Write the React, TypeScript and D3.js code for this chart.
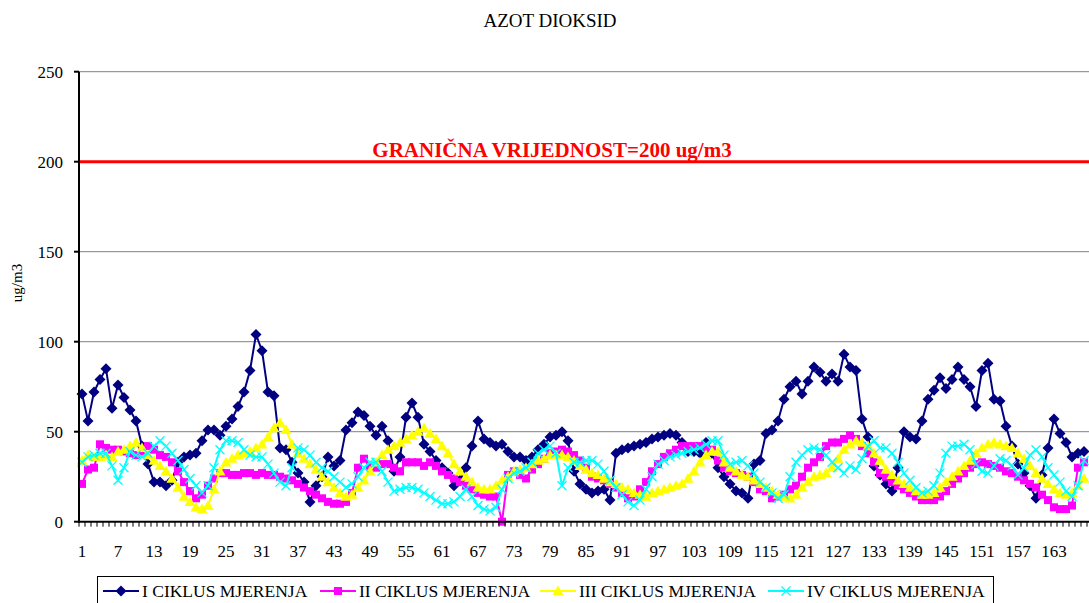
import React from 'react'
import { scaleBand, scaleLinear, line } from 'd3'

// hourly values, 168 per cycle
const ciklusI = [
  71, 56, 72, 79, 85, 63, 76, 69, 62, 56,
  42, 32, 22, 22, 20, 23, 33, 36, 37, 38,
  45, 51, 51, 48, 53, 57, 64, 72, 84, 104,
  95, 72, 70, 41, 40, 33, 27, 22, 11, 20,
  25, 36, 31, 34, 51, 55, 61, 59, 53, 48,
  53, 45, 28, 36, 58, 66, 58, 43, 39, 34,
  30, 27, 20, 23, 30, 42, 56, 46, 44, 42,
  43, 39, 36, 36, 34, 36, 40, 43, 47, 48,
  50, 45, 28, 21, 18, 16, 17, 18, 12, 38,
  40, 41, 42, 43, 44, 46, 47, 48, 49, 48,
  44, 39, 39, 38, 44, 38, 30, 25, 21, 17,
  16, 13, 32, 34, 49, 51, 56, 68, 75, 78,
  71, 78, 86, 83, 78, 82, 78, 93, 86, 84,
  57, 47, 31, 26, 21, 17, 30, 50, 47, 46,
  56, 68, 73, 80, 74, 79, 86, 79, 75, 64,
  84, 88, 68, 67, 53, 42, 32, 27, 20, 13,
  26, 41, 57, 49, 44, 36, 38, 39,
]
const ciklusII = [
  21, 29, 30, 43, 41, 40, 40, 39, 38, 37,
  39, 42, 40, 37, 36, 33, 28, 22, 17, 13,
  15, 20, 24, 27, 27, 26, 26, 27, 27, 26,
  27, 26, 26, 25, 24, 23, 21, 19, 17, 15,
  13, 11, 10, 10, 11, 16, 30, 35, 31, 30,
  32, 32, 30, 28, 33, 33, 33, 31, 33, 31,
  28, 26, 24, 22, 20, 18, 16, 15, 14, 14,
  0, 26, 28, 26, 24, 29, 32, 35, 38, 39,
  40, 39, 37, 34, 30, 25, 24, 23, 21, 19,
  16, 13, 14, 18, 22, 28, 32, 36, 38, 40,
  42, 42, 42, 42, 41, 40, 34, 30, 28, 27,
  26, 25, 22, 18, 17, 13, 14, 15, 18, 20,
  25, 30, 33, 36, 42, 44, 44, 46, 48, 46,
  42, 38, 33, 27, 25, 22, 20, 18, 16, 14,
  12, 12, 12, 14, 17, 21, 24, 27, 30, 32,
  33, 32, 31, 30, 28, 27, 25, 23, 21, 19,
  15, 12, 8, 7, 7, 9, 30, 33,
]
const ciklusIII = [
  34, 37, 36, 36, 37, 36, 39, 40, 42, 44,
  41, 37, 34, 31, 28, 24, 19, 14, 11, 8,
  7, 9, 18, 28, 33, 35, 37, 38, 39, 41,
  43, 47, 52, 55, 51, 43, 38, 35, 32, 29,
  25, 22, 19, 16, 14, 15, 19, 23, 28, 33,
  37, 40, 42, 44, 46, 48, 50, 52, 49, 46,
  42, 38, 32, 28, 25, 22, 19, 18, 18, 20,
  23, 25, 28, 29, 30, 32, 34, 35, 37, 37,
  37, 36, 34, 31, 29, 27, 26, 24, 22, 21,
  19, 18, 16, 15, 14, 16, 17, 18, 19, 20,
  21, 24, 28, 33, 37, 39, 39, 33, 30, 28,
  26, 25, 23, 21, 19, 17, 15, 14, 13, 15,
  19, 22, 25, 26, 27, 30, 35, 40, 43, 45,
  44, 42, 38, 34, 29, 26, 23, 21, 19, 17,
  15, 15, 16, 19, 22, 25, 28, 31, 34, 38,
  41, 43, 44, 43, 42, 41, 38, 35, 31, 27,
  24, 21, 18, 16, 15, 16, 20, 24,
]
const ciklusIV = [
  33, 36, 37, 38, 38, 31, 23, 30, 39, 37,
  36, 38, 42, 45, 42, 38, 34, 29, 24, 20,
  16, 20, 30, 40, 45, 45, 44, 40, 37, 36,
  36, 32, 27, 22, 20, 30, 41, 40, 37, 33,
  30, 28, 25, 22, 19, 21, 25, 30, 33, 33,
  28, 22, 17, 18, 19, 19, 18, 16, 14, 12,
  10, 10, 11, 14, 18, 14, 9, 7, 6, 8,
  18, 24, 27, 28, 30, 33, 38, 40, 42, 38,
  20, 30, 33, 33, 34, 34, 32, 28, 23, 19,
  15, 11, 9, 12, 18, 25, 32, 34, 36, 37,
  38, 39, 40, 41, 43, 45, 45, 37, 32, 33,
  34, 31, 27, 22, 19, 16, 13, 15, 25, 33,
  37, 40, 41, 40, 37, 33, 30, 27, 31, 29,
  35, 42, 45, 41, 41, 38, 33, 27, 23, 19,
  16, 17, 20, 27, 38, 42, 42, 43, 40, 32,
  28, 27, 31, 35, 34, 31, 26, 30, 37, 40,
  36, 30, 26, 22, 17, 14, 20, 34,
]
const sati = ciklusI.map((_, i) => i + 1)
const yTicks = [0, 50, 100, 150, 200, 250]
const granica = 200

const series = [
  { name: 'I CIKLUS MJERENJA', values: ciklusI, color: '#000080', marker: 'diamond' },
  { name: 'II CIKLUS MJERENJA', values: ciklusII, color: '#FF00FF', marker: 'square' },
  { name: 'III CIKLUS MJERENJA', values: ciklusIII, color: '#FFFF00', marker: 'triangle' },
  { name: 'IV CIKLUS MJERENJA', values: ciklusIV, color: '#00FFFF', marker: 'x' },
]

const serif = { fontFamily: 'Liberation Serif, Times New Roman, serif' }

const Marker = ({ type, x, y, color }: { type: string; x: number; y: number; color: string }) => {
  if (type === 'diamond') {
    const r = 5.5
    return <path d={`M${x},${y - r}L${x + r},${y}L${x},${y + r}L${x - r},${y}Z`} fill={color} />
  }
  if (type === 'square') {
    return <rect x={x - 4} y={y - 4} width={8} height={8} fill={color} />
  }
  if (type === 'triangle') {
    const r = 5.5
    return <path d={`M${x},${y - r}L${x + r},${y + r * 0.75}L${x - r},${y + r * 0.75}Z`} fill={color} />
  }
  const r = 4.5
  return (
    <path d={`M${x - r},${y - r}L${x + r},${y + r}M${x - r},${y + r}L${x + r},${y - r}`} stroke={color} strokeWidth={1.3} />
  )
}

const App = () => {
  const width = 1089
  const height = 603
  const left = 79
  const top = 71.7
  const bottom = 521.7
  const right = left + sati.length * 6

  const x = scaleBand<number>().domain(sati).range([left, right])
  const y = scaleLinear().domain([0, 250]).range([bottom, top])
  const cx = (d: number) => (x(d) as number) + x.bandwidth() / 2

  const legendX = [103, 320, 540, 768]

  return (
    <svg width={width} height={height} style={{ position: 'absolute', left: 0, top: 0, background: '#fff' }}>
      <text x={550} y={27} textAnchor="middle" fontSize={19} style={serif}>AZOT DIOKSID</text>

      {yTicks.filter(t => t > 0).map(t => (
        <line key={t} x1={left} x2={width} y1={y(t)} y2={y(t)} stroke="#808080" strokeWidth={1} />
      ))}

      <line x1={left} x2={width} y1={y(granica)} y2={y(granica)} stroke="#FF0000" strokeWidth={3} />
      <text x={552} y={157} textAnchor="middle" fontSize={21} fontWeight="bold" fill="#FF0000" style={serif}>
        GRANIČNA VRIJEDNOST=200 ug/m3
      </text>

      {series.map(s => (
        <g key={s.name}>
          <path
            d={line<number>().x((_, i) => cx(sati[i])).y(v => y(v))(s.values) || ''}
            fill="none"
            stroke={s.color}
            strokeWidth={2}
          />
          {s.values.map((v, i) => (
            <Marker key={i} type={s.marker} x={cx(sati[i])} y={y(v)} color={s.color} />
          ))}
        </g>
      ))}

      {/* axes */}
      <line x1={left} x2={left} y1={top} y2={bottom + 1} stroke="#000" strokeWidth={2} />
      <line x1={left - 1} x2={width} y1={bottom} y2={bottom} stroke="#000" strokeWidth={2} />
      {yTicks.map(t => (
        <g key={t}>
          <line x1={left - 5} x2={left} y1={y(t)} y2={y(t)} stroke="#000" strokeWidth={2} />
          <text x={63} y={y(t) + 6} textAnchor="end" fontSize={17} style={serif}>{t}</text>
        </g>
      ))}
      {[...sati, sati.length + 1].map((d, i) => (
        <line key={i} x1={left + i * x.step()} x2={left + i * x.step()} y1={bottom} y2={bottom + 5} stroke="#000" strokeWidth={1} />
      ))}
      {sati.filter(d => (d - 1) % 6 === 0).map(d => (
        <text key={d} x={cx(d)} y={557} textAnchor="middle" fontSize={17} style={serif}>{d}</text>
      ))}

      <text transform={`translate(22, 283) rotate(-90)`} textAnchor="middle" fontSize={15} style={serif}>ug/m3</text>

      {/* legend */}
      <rect x={97.5} y={576.5} width={896} height={40} fill="#fff" stroke="#000" strokeWidth={1} />
      {series.map((s, i) => (
        <g key={s.name}>
          <line x1={legendX[i]} x2={legendX[i] + 36} y1={591} y2={591} stroke={s.color} strokeWidth={2} />
          <Marker type={s.marker} x={legendX[i] + 18} y={591} color={s.color} />
          <text x={legendX[i] + 39} y={597} fontSize={17.5} style={serif}>{s.name}</text>
        </g>
      ))}
    </svg>
  )
}

export default App
